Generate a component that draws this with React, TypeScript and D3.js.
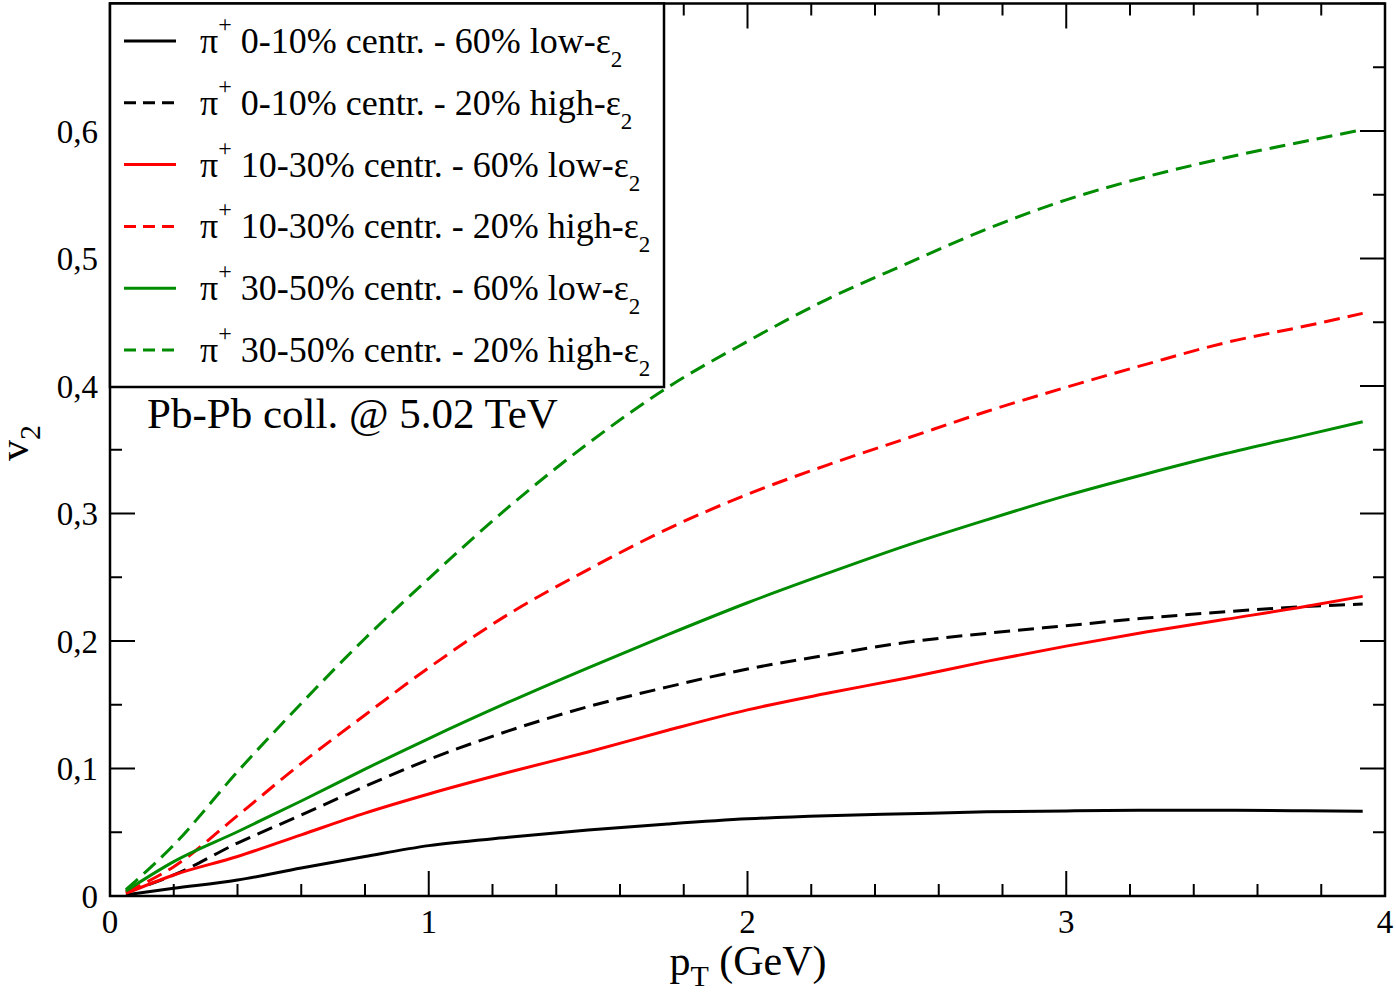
import React, { useEffect, useRef } from 'react';
import * as d3 from 'd3';

// transverse momentum grid (GeV)
const ptValues = [0.05, 0.2, 0.4, 0.6, 0.8, 1.0, 1.25, 1.5, 1.75, 2.0, 2.25, 2.5, 2.75, 3.0, 3.25, 3.5, 3.75, 3.93];

// v2 of pi+ per centrality class and eccentricity selection
const v2Cent0to10Low = [0.001, 0.006, 0.0125, 0.022, 0.031, 0.0395, 0.046, 0.0518, 0.0565, 0.0605, 0.063, 0.0645, 0.066, 0.0667, 0.0672, 0.0672, 0.0668, 0.0665];
const v2Cent0to10High = [0.003, 0.0165, 0.0415, 0.0635, 0.086, 0.107, 0.1295, 0.1485, 0.164, 0.178, 0.189, 0.199, 0.206, 0.212, 0.218, 0.223, 0.227, 0.229];
const v2Cent10to30Low = [0.002, 0.0165, 0.031, 0.048, 0.065, 0.080, 0.097, 0.113, 0.130, 0.146, 0.159, 0.171, 0.184, 0.196, 0.207, 0.217, 0.227, 0.235];
const v2Cent10to30High = [0.003, 0.023, 0.063, 0.104, 0.142, 0.179, 0.221, 0.256, 0.288, 0.315, 0.338, 0.359, 0.380, 0.399, 0.417, 0.434, 0.447, 0.457];
const v2Cent30to50Low = [0.004, 0.027, 0.0504, 0.0745, 0.0995, 0.1235, 0.152, 0.179, 0.205, 0.230, 0.253, 0.275, 0.295, 0.314, 0.331, 0.347, 0.3615, 0.372];
const v2Cent30to50High = [0.005, 0.040, 0.0975, 0.151, 0.202, 0.249, 0.305, 0.355, 0.399, 0.435, 0.468, 0.496, 0.523, 0.546, 0.564, 0.579, 0.592, 0.601];

const centralities = ['0-10%', '0-10%', '10-30%', '10-30%', '30-50%', '30-50%'];
const selections = ['60% low', '20% high', '60% low', '20% high', '60% low', '20% high'];
const seriesColors = ['#000000', '#000000', '#ff0000', '#ff0000', '#008c00', '#008c00'];
const seriesDashed = [false, true, false, true, false, true];
const seriesValues = [v2Cent0to10Low, v2Cent0to10High, v2Cent10to30Low, v2Cent10to30High, v2Cent30to50Low, v2Cent30to50High];

const xMajorTicks = [0, 1, 2, 3, 4];
const yMajorTicks = [0, 0.1, 0.2, 0.3, 0.4, 0.5, 0.6, 0.7];

const FONT = '"Liberation Serif", "Times New Roman", serif';

function App() {
  const ref = useRef<SVGSVGElement>(null);
  const C = {
    width: 1396,
    height: 996,
    left: 110,
    right: 1385,
    top: 3.5,
    bottom: 896,
    major: 25,
    minor: 12,
  };

  useEffect(() => {
    const svg = d3.select(ref.current);
    svg.selectAll('*').remove();

    const x = d3.scaleLinear().domain([0, 4]).range([C.left, C.right]);
    const y = d3.scaleLinear().domain([0, 0.7]).range([C.bottom, C.top]);

    svg.append('rect').attr('width', C.width).attr('height', C.height).attr('fill', '#fff');

    // curves
    const line = d3.line<number>()
      .x((d, i) => x(ptValues[i]))
      .y((d) => y(d))
      .curve(d3.curveMonotoneX);
    seriesValues.forEach((vals, k) => {
      svg.append('path')
        .attr('d', line(vals))
        .attr('fill', 'none')
        .attr('stroke', seriesColors[k])
        .attr('stroke-width', 3)
        .attr('stroke-dasharray', seriesDashed[k] ? '16,8' : null);
    });

    // ticks on all four sides
    const ticks = svg.append('g').attr('stroke', '#000').attr('stroke-width', 2);
    const xMinor = d3.range(0, 4.001, 0.2).filter((v) => Math.abs(v - Math.round(v)) > 1e-6);
    const yMinor = d3.range(0, 0.7001, 0.05).filter((v) => Math.abs(v * 10 - Math.round(v * 10)) > 1e-6);
    const xt = [...xMajorTicks.map((v) => [v, C.major]), ...xMinor.map((v) => [v, C.minor])];
    const yt = [...yMajorTicks.map((v) => [v, C.major]), ...yMinor.map((v) => [v, C.minor])];
    xt.forEach(([v, len]) => {
      ticks.append('line').attr('x1', x(v)).attr('x2', x(v)).attr('y1', C.bottom).attr('y2', C.bottom - len);
      ticks.append('line').attr('x1', x(v)).attr('x2', x(v)).attr('y1', C.top).attr('y2', C.top + len);
    });
    yt.forEach(([v, len]) => {
      ticks.append('line').attr('x1', C.left).attr('x2', C.left + len).attr('y1', y(v)).attr('y2', y(v));
      ticks.append('line').attr('x1', C.right).attr('x2', C.right - len).attr('y1', y(v)).attr('y2', y(v));
    });

    // frame
    svg.append('rect')
      .attr('x', C.left).attr('y', C.top)
      .attr('width', C.right - C.left).attr('height', C.bottom - C.top)
      .attr('fill', 'none').attr('stroke', '#000').attr('stroke-width', 2.5);

    // tick labels
    const fmt = (v: number) => (v === 0 ? '0' : d3.format('.1f')(v).replace('.', ','));
    svg.append('g').selectAll('text').data(xMajorTicks).enter().append('text')
      .attr('x', (d) => x(d)).attr('y', 933)
      .attr('text-anchor', 'middle')
      .style('font-family', FONT).style('font-size', '33px')
      .text((d) => String(d));
    svg.append('g').selectAll('text').data(yMajorTicks.slice(0, 7)).enter().append('text')
      .attr('x', 98).attr('y', (d) => y(d)).attr('dy', '0.35em')
      .attr('text-anchor', 'end')
      .style('font-family', FONT).style('font-size', '33px')
      .text((d) => fmt(d));

    // axis titles
    const xTitle = svg.append('text').attr('x', 748).attr('y', 975).attr('text-anchor', 'middle')
      .style('font-family', FONT).style('font-size', '42px');
    xTitle.append('tspan').text('p');
    xTitle.append('tspan').attr('dy', 11).style('font-size', '30px').text('T');
    xTitle.append('tspan').attr('dy', -11).text(' (GeV)');

    const yTitle = svg.append('text').attr('transform', 'translate(28,443) rotate(-90)').attr('text-anchor', 'middle')
      .style('font-family', FONT).style('font-size', '42px');
    yTitle.append('tspan').text('v');
    yTitle.append('tspan').attr('dy', 12).style('font-size', '30px').text('2');

    // legend
    const lg = svg.append('g');
    lg.append('rect')
      .attr('x', C.left).attr('y', C.top).attr('width', 664 - C.left).attr('height', 387 - C.top)
      .attr('fill', '#fff').attr('stroke', '#000').attr('stroke-width', 2.5);
    centralities.forEach((cent, k) => {
      const ly = 41 + k * 61.8;
      lg.append('line')
        .attr('x1', 124).attr('x2', 176).attr('y1', ly).attr('y2', ly)
        .attr('stroke', seriesColors[k]).attr('stroke-width', 3)
        .attr('stroke-dasharray', seriesDashed[k] ? '12,7' : null);
      const t = lg.append('text').attr('x', 200).attr('y', ly + 12)
        .style('font-family', FONT).style('font-size', '36px');
      t.append('tspan').text('π');
      t.append('tspan').attr('dy', -21).style('font-size', '24px').text('+');
      t.append('tspan').attr('dy', 21).text(` ${cent} centr. - ${selections[k]}-ε`);
      t.append('tspan').attr('dy', 14).style('font-size', '23px').text('2');
    });

    svg.append('text').attr('x', 147).attr('y', 428)
      .style('font-family', FONT).style('font-size', '43px')
      .text('Pb-Pb coll. @ 5.02 TeV');
  }, []);

  return (
    <svg
      ref={ref}
      width={C.width}
      height={C.height}
      style={{ position: 'absolute', left: 0, top: 0, display: 'block' }}
    />
  );
}

export default App;
